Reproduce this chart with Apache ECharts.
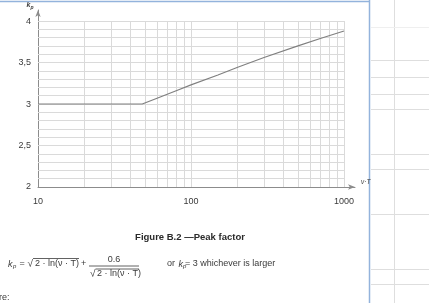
<!DOCTYPE html>
<html><head><meta charset="utf-8">
<script src="https://cdn.jsdelivr.net/npm/echarts@6/dist/echarts.min.js"></script>
<style>html,body{margin:0;padding:0;background:#fff}#c{width:429px;height:303px}</style>
</head><body><div id="c"></div>
<script>
// Data
const vT = [10, 48, 60, 80, 100, 150, 200, 300, 500, 700, 1000];
const kp = [3.00, 3.00, 3.07, 3.16, 3.23, 3.35, 3.44, 3.56, 3.70, 3.79, 3.88];
const xTickLabels = [10, 100, 1000];
const yTickLabels = [2, 2.5, 3, 3.5, 4];
const xGridValues = [20, 30, 40, 50, 60, 70, 80, 90, 100, 200, 300, 400, 500, 600, 700, 800, 900, 1000];
const yGridValues = [2.1, 2.2, 2.3, 2.4, 2.5, 2.6, 2.7, 2.8, 2.9, 3.0, 3.1, 3.2, 3.3, 3.4, 3.5, 3.6, 3.7, 3.8, 3.9, 4.0];
const captionText = 'Figure B.2 \u2014Peak factor';

const FONT = '"Liberation Sans", Arial, sans-serif';
const TXT = '#3a3a3a';
const GRIDC = '#dadada';
const AXISC = '#8c8c8c';

const chart = echarts.init(document.getElementById('c'), null, {renderer: 'canvas'});

const gridLines = [];
xGridValues.forEach(v => gridLines.push([{coord: [v, 2]}, {coord: [v, 4]}]));
yGridValues.forEach(v => gridLines.push([{coord: [10, v]}, {coord: [1000, v]}]));

const near = (a, list) => list.some(t => Math.abs(t - a) < 1e-6 * Math.max(1, Math.abs(t)));

function txt(x, y, s, font, extra) {
  return Object.assign({
    type: 'text', x: x, y: y, silent: true,
    style: {text: s, font: font, fill: TXT, textAlign: 'left', textVerticalAlign: 'middle'}
  }, extra || {});
}
function ln(x1, y1, x2, y2, color, w) {
  return {type: 'line', silent: true, shape: {x1, y1, x2, y2}, style: {stroke: color, lineWidth: w}};
}

const graphics = [];
// page frame / table lines
graphics.push(ln(0, 1.5, 370, 1.5, '#93b3dc', 1.5));
graphics.push(ln(369.5, 0, 369.5, 303, '#93b3dc', 1.5));
graphics.push(ln(394.5, 0, 394.5, 303, '#dedede', 1));
[60, 77, 94, 109, 154, 169, 214, 269, 284].forEach(y => graphics.push(ln(371, y + 0.5, 429, y + 0.5, '#dedede', 1)));
graphics.push(ln(371, 27.5, 429, 27.5, '#efefef', 1));

// axis names
graphics.push(txt(26.5, 5, 'k', 'italic bold 7px ' + FONT));
graphics.push(txt(30.5, 7.5, 'p', 'italic bold 5px ' + FONT));
graphics.push(txt(361, 182, '\u03bd\u00b7T', 'italic 6.5px ' + FONT));

// caption
graphics.push(txt(190, 237, captionText, 'bold 9.5px ' + FONT, {style: {text: captionText, font: 'bold 9.5px ' + FONT, fill: '#2a2a2a', textAlign: 'center', textVerticalAlign: 'middle'}}));

// formula
const F9 = '9px ' + FONT;
graphics.push(txt(8, 264, 'k', 'italic 9px ' + FONT));
graphics.push(txt(13, 266.5, 'p', 'italic 6px ' + FONT));
graphics.push(txt(19.5, 264, '=', F9));
graphics.push(txt(27.5, 264.5, '\u221a', '10px ' + FONT));
graphics.push(ln(33, 258.5, 79, 258.5, TXT, 0.8));
graphics.push(txt(35, 264, '2 \u00b7 ln(\u03bd \u00b7 T)', F9));
graphics.push(txt(81, 264, '+', F9));
graphics.push(txt(114, 259.5, '0.6', F9, {style: {text: '0.6', font: F9, fill: TXT, textAlign: 'center', textVerticalAlign: 'middle'}}));
graphics.push(ln(89, 266, 139, 266, TXT, 0.8));
graphics.push(txt(90, 274.5, '\u221a', '10px ' + FONT));
graphics.push(ln(95.5, 269, 139, 269, TXT, 0.8));
graphics.push(txt(97, 274, '2 \u00b7 ln(\u03bd \u00b7 T)', F9));

graphics.push(txt(167, 264, 'or', F9));
graphics.push(txt(178.5, 264, 'k', 'italic 9px ' + FONT));
graphics.push(txt(183, 266.5, 'p', 'italic 6px ' + FONT));
graphics.push(txt(185, 264, '= 3 whichever is larger', F9));

graphics.push(txt(-1, 298, 're:', F9));

chart.setOption({
  animation: false,
  backgroundColor: '#ffffff',
  grid: {left: 38, right: 74, top: 10, bottom: 116, containLabel: false},
  xAxis: {
    type: 'log', logBase: 10, min: 10, max: 1180,
    axisLine: {show: true, lineStyle: {color: AXISC, width: 1}, symbol: ['none', 'arrow'], symbolSize: [4, 7]},
    axisTick: {show: false},
    splitLine: {show: false},
    minorTick: {show: false}, minorSplitLine: {show: false},
    axisLabel: {
      margin: 10, color: TXT, fontFamily: FONT, fontSize: 9,
      formatter: v => near(v, xTickLabels) ? String(Math.round(v)) : ''
    }
  },
  yAxis: {
    type: 'value', min: 2, max: 4.133, interval: 0.5,
    axisLine: {show: true, lineStyle: {color: AXISC, width: 1}, symbol: ['none', 'arrow'], symbolSize: [4, 7]},
    axisTick: {show: false},
    splitLine: {show: false},
    axisLabel: {
      margin: 7, color: TXT, fontFamily: FONT, fontSize: 9,
      formatter: v => near(v, yTickLabels) ? String(v).replace('.', ',') : ''
    }
  },
  series: [
    {
      type: 'line', z: 1, silent: true, data: [[10, 2]], showSymbol: false,
      lineStyle: {width: 0},
      markLine: {
        silent: true, symbol: ['none', 'none'], label: {show: false},
        lineStyle: {color: GRIDC, width: 1, type: 'solid'},
        emphasis: {disabled: true},
        data: gridLines
      }
    },
    {
      type: 'line', z: 5, silent: true,
      data: vT.map((x, i) => [x, kp[i]]),
      showSymbol: false, symbol: 'none',
      lineStyle: {color: '#808080', width: 1.2}
    }
  ],
  graphic: {elements: graphics}
});
</script>
</body></html>
